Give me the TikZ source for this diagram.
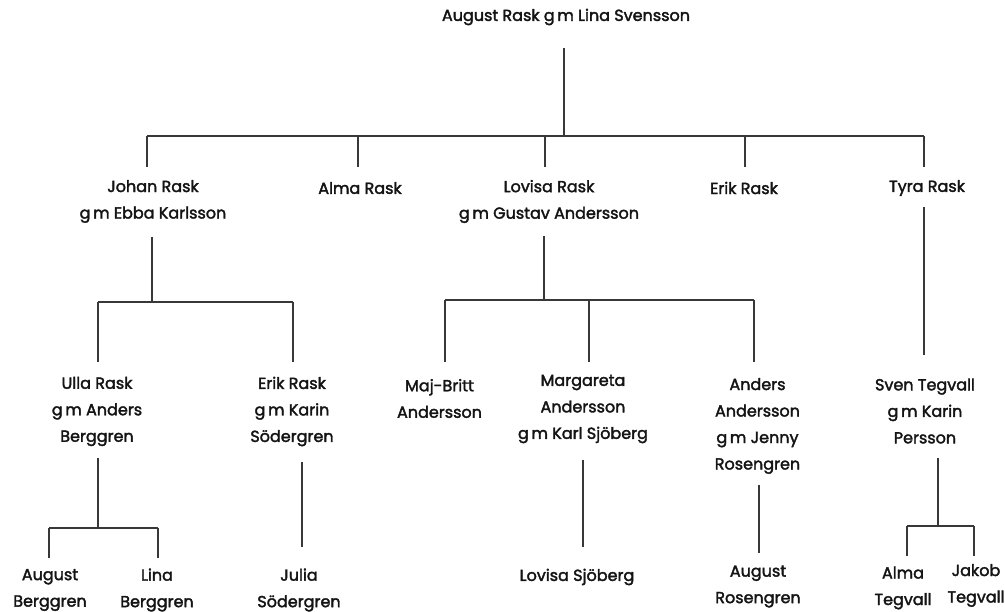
\documentclass[tikz,border=0pt]{standalone}
\usepackage{fontspec}
\newfontfamily\lblfont{Poppins}[FakeBold=2.2]
\begin{document}
\begin{tikzpicture}[x=1pt,y=-1pt,
  lbl/.style={font=\lblfont\fontsize{16}{26.5}\selectfont, align=center, text=black!92, inner sep=0pt},
  ln/.style={draw=black!78, line width=1.4pt}]
\useasboundingbox (0,0) rectangle (1005,612);
% generation 0
\node[lbl] (top) at (566,17) {August Rask g\,m Lina Svensson};
% generation 1
\node[lbl] (johan) at (153,201.5) {Johan Rask\\g\,m Ebba Karlsson};
\node[lbl] (alma) at (360,188) {Alma Rask};
\node[lbl] (lovisa) at (549,201.5) {Lovisa Rask\\g\,m Gustav Andersson};
\node[lbl] (erik) at (744,188) {Erik Rask};
\node[lbl] (tyra) at (927,188) {Tyra Rask};
% generation 2
\node[lbl] (ulla) at (97,411.5) {Ulla Rask\\g\,m Anders\\Berggren};
\node[lbl] (eriks) at (292,411.5) {Erik Rask\\g\,m Karin\\Södergren};
\node[lbl] (majbritt) at (439.5,398.5) {Maj-Britt\\Andersson};
\node[lbl] (margareta) at (583,409) {Margareta\\Andersson\\g\,m Karl Sjöberg};
\node[lbl] (anders) at (757.5,426) {Anders\\Andersson\\g\,m Jenny\\Rosengren};
\node[lbl] (sven) at (925,411) {Sven Tegvall\\g\,m Karin\\Persson};
% generation 3
\node[lbl] (augustb) at (50,590) {August\\Berggren};
\node[lbl] (lina) at (157,590) {Lina\\Berggren};
\node[lbl] (julia) at (299,590) {Julia\\Södergren};
\node[lbl] (lovisas) at (577,577) {Lovisa Sjöberg};
\node[lbl] (augustr) at (758,586.5) {August\\Rosengren};
\node[lbl] (almat) at (903,588) {Alma\\Tegvall};
\node[lbl] (jakob) at (976,585.5) {Jakob\\Tegvall};
% junction coordinates
\coordinate (topd) at (564,48);
\coordinate (topj) at (564,136);
\coordinate (b1l) at (147,136);
\coordinate (b1r) at (924,136);
\coordinate (johanu) at (147,167);
\coordinate (almau) at (358,167);
\coordinate (lovisau) at (545,167);
\coordinate (eriku) at (745,167);
\coordinate (tyrau) at (924,167);
\coordinate (johand) at (152,237);
\coordinate (johanj) at (152,302);
\coordinate (ullau) at (98,362);
\coordinate (eriksu) at (293,362);
\coordinate (ullab) at (98,302);
\coordinate (eriksb) at (293,302);
\coordinate (lovisad) at (544,236);
\coordinate (lovisaj) at (544,300);
\coordinate (majb) at (445,300);
\coordinate (margb) at (589,300);
\coordinate (andb) at (754,300);
\coordinate (maju) at (445,362);
\coordinate (margu) at (589,362);
\coordinate (andu) at (754,362);
\coordinate (tyrad) at (924,207);
\coordinate (svenu) at (924,355);
\coordinate (ullad) at (98,458);
\coordinate (ullaj) at (98,528);
\coordinate (augbb) at (49,528);
\coordinate (linab) at (158,528);
\coordinate (augbu) at (49,558);
\coordinate (linau) at (158,558);
\coordinate (eriksd) at (302,462);
\coordinate (juliau) at (302,547);
\coordinate (margd) at (583,460);
\coordinate (lovsu) at (583,547);
\coordinate (andd) at (759,485);
\coordinate (augru) at (759,553);
\coordinate (svend) at (938,458);
\coordinate (svenj) at (938,526);
\coordinate (almab) at (907,526);
\coordinate (jakobb) at (974,526);
\coordinate (almau2) at (907,556);
\coordinate (jakobu) at (974,556);
% connectors
\draw[ln] (topd) -- (topj);
\draw[ln] (b1l) -- (b1r);
\draw[ln] (b1l) -- (johanu);
\draw[ln] (almau |- b1l) -- (almau);
\draw[ln] (lovisau |- b1l) -- (lovisau);
\draw[ln] (eriku |- b1l) -- (eriku);
\draw[ln] (b1r) -- (tyrau);
\draw[ln] (johand) -- (johanj);
\draw[ln] (ullab) -- (eriksb);
\draw[ln] (ullab) -- (ullau);
\draw[ln] (eriksb) -- (eriksu);
\draw[ln] (lovisad) -- (lovisaj);
\draw[ln] (majb) -- (andb);
\draw[ln] (majb) -- (maju);
\draw[ln] (margb) -- (margu);
\draw[ln] (andb) -- (andu);
\draw[ln] (tyrad) -- (svenu);
\draw[ln] (ullad) -- (ullaj);
\draw[ln] (augbb) -- (linab);
\draw[ln] (augbb) -- (augbu);
\draw[ln] (linab) -- (linau);
\draw[ln] (eriksd) -- (juliau);
\draw[ln] (margd) -- (lovsu);
\draw[ln] (andd) -- (augru);
\draw[ln] (svend) -- (svenj);
\draw[ln] (almab) -- (jakobb);
\draw[ln] (almab) -- (almau2);
\draw[ln] (jakobb) -- (jakobu);
\end{tikzpicture}
\end{document}
